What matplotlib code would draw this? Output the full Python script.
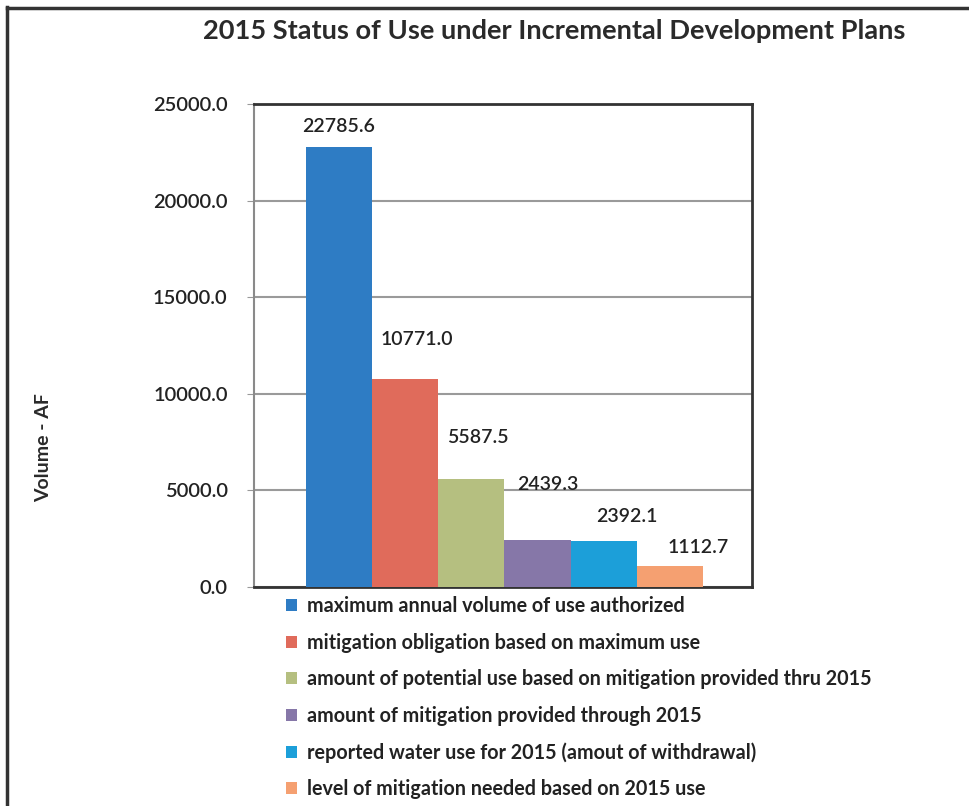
import matplotlib
matplotlib.use("Agg")
import matplotlib.pyplot as plt
from matplotlib.lines import Line2D
from matplotlib.patches import Patch

plt.rcParams['font.family'] = ['Lato', 'DejaVu Sans']

# Data
categories = [
    "maximum annual volume of use authorized",
    "mitigation obligation based on maximum use",
    "amount of potential use based on mitigation provided thru 2015",
    "amount of mitigation provided through 2015",
    "reported water use for 2015 (amout of withdrawal)",
    "level of mitigation needed based on 2015 use",
]
values = [22785.6, 10771.0, 5587.5, 2439.3, 2392.1, 1112.7]
colors = ["#2E7CC4", "#E06B5B", "#B5BF80", "#8677A8", "#1C9FD9", "#F5A071"]
yticks = [0, 5000, 10000, 15000, 20000, 25000]

# label offsets (pixels) relative to the top centre of each bar
label_offsets = [(0, 20), (12, 39), (7, 42), (10, 55), (23, 24), (28, 18)]

W, H = 970, 806
fig = plt.figure(figsize=(W / 100, H / 100), dpi=100)
ax = fig.add_axes([254 / W, 1 - 587 / H, 498 / W, 483 / H])

xs = list(range(len(values)))
bars = ax.bar(xs, values, width=1.0, color=colors, zorder=3)

ax.set_xlim(-1.284, 6.24)
ax.set_ylim(0, 25000)
ax.set_yticks(yticks)
ax.set_yticklabels([f"{v:.1f}" for v in yticks], fontsize=14.5, color="#222222",
                   fontweight="semibold")
ax.set_xticks([])
ax.tick_params(axis='y', length=5, color="#999999", pad=14)
ax.yaxis.grid(True, color="#9a9a9a", linewidth=1.5, zorder=0)
ax.set_axisbelow(True)

for side in ["top", "right", "bottom"]:
    ax.spines[side].set_color("#333333")
    ax.spines[side].set_linewidth(2)
ax.spines["left"].set_color("#8a8a8a")
ax.spines["left"].set_linewidth(1.5)

for x, v, (dx, dy) in zip(xs, values, label_offsets):
    ax.annotate(f"{v:.1f}", xy=(x, v), xytext=(dx, dy), textcoords="offset pixels",
                ha="center", va="center", fontsize=14, color="#222222",
                fontweight="semibold", zorder=5)

# title and axis label
fig.text(554 / W, 1 - 31 / H, "2015 Status of Use under Incremental Development Plans",
         ha="center", va="center", fontsize=19.6, fontweight="bold", color="#2a2a2a")
fig.text(44 / W, 1 - 448 / H, "Volume - AF", rotation=90, ha="center", va="center",
         fontsize=14, fontweight="bold", color="#2a2a2a")

# legend
handles = [Patch(facecolor=c, edgecolor="none") for c in colors]
fig.legend(handles, categories, loc="upper left", bbox_to_anchor=(286 / W, 1 - 596 / H),
           frameon=False, handlelength=0.55, handleheight=0.55,
           handletextpad=0.5, labelspacing=0.84, borderaxespad=0, borderpad=0,
           labelcolor="#222222",
           prop={"family": ["Lato", "DejaVu Sans"], "size": 14.2, "weight": "bold"})

# page frame lines
fig.add_artist(Line2D([7 / W, 7 / W], [0, 1 - 7 / H], color="#333333", linewidth=2.5))
fig.add_artist(Line2D([7 / W, 1], [1 - 8 / H, 1 - 8 / H], color="#333333", linewidth=2.5))

fig.savefig("out.png", dpi=100)
